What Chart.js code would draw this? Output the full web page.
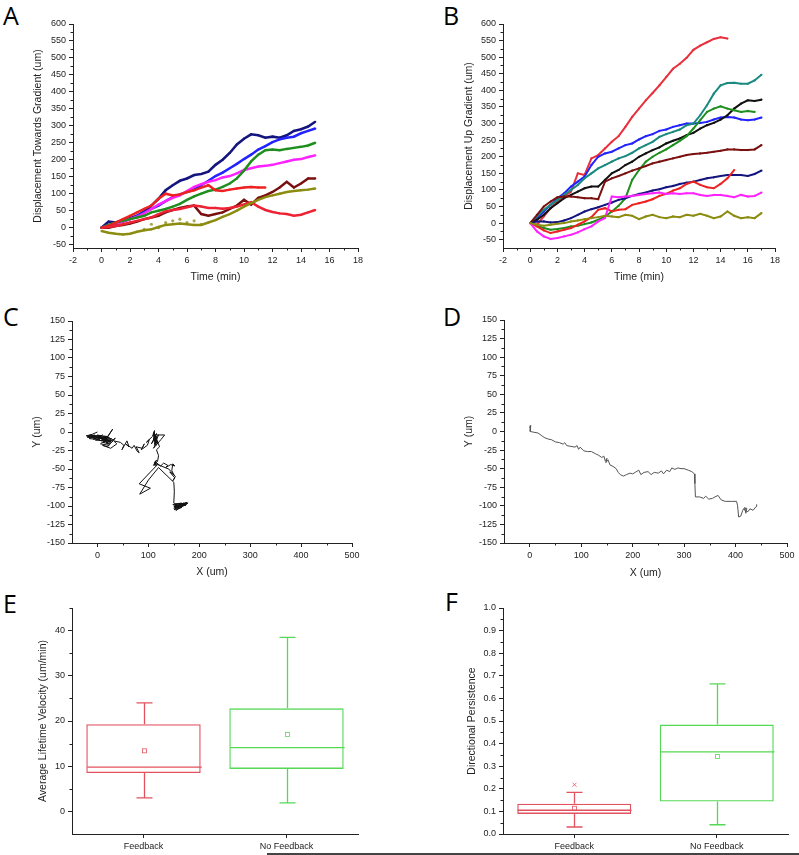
<!DOCTYPE html>
<html>
<head>
<meta charset="utf-8">
<script src="https://cdn.jsdelivr.net/npm/chart.js@4.4.1/dist/chart.umd.min.js"></script>
<style>
  body { margin: 0; background: #fff; width: 799px; height: 855px; position: relative; overflow: hidden; }
  canvas { position: absolute; }
  .lbl { position: absolute; font-family: "Open Sans", sans-serif; font-size: 25px; line-height: 25px; color: #000; }
  #rule { position: absolute; left: 267px; top: 853px; width: 532px; height: 2px; background: #444; }
</style>
</head>
<body>
<div class="lbl" style="left:3px;top:3px">A</div>
<div class="lbl" style="left:443px;top:3px">B</div>
<div class="lbl" style="left:3px;top:304px">C</div>
<div class="lbl" style="left:443px;top:304px">D</div>
<div class="lbl" style="left:3px;top:591px">E</div>
<div class="lbl" style="left:445px;top:589px">F</div>
<div id="rule"></div>

<canvas id="chartA" width="400" height="292" style="left:0;top:0"></canvas>
<canvas id="chartB" width="399" height="292" style="left:400px;top:0"></canvas>
<canvas id="chartC" width="400" height="290" style="left:0;top:295px"></canvas>
<canvas id="chartD" width="399" height="290" style="left:400px;top:295px"></canvas>
<canvas id="chartE" width="400" height="270" style="left:0;top:585px"></canvas>
<canvas id="chartF" width="399" height="270" style="left:400px;top:585px"></canvas>

<script>
// ---- Panel A: displacement towards gradient (feedback), every 0.5 min ----
const timeA = [0,0.5,1,1.5,2,2.5,3,3.5,4,4.5,5,5.5,6,6.5,7,7.5,8,8.5,9,9.5,10,10.5,11,11.5,12,12.5,13,13.5,14,14.5,15];
const navyA    = [0,18,15,22,28,35,48,65,85,110,125,138,145,155,158,165,185,200,220,245,262,275,272,265,268,265,272,285,290,298,312];
const blueA    = [0,8,12,18,25,35,45,55,65,78,90,98,105,112,125,138,152,162,175,188,202,215,230,240,252,260,265,268,278,285,292];
const greenA   = [0,8,15,20,25,30,35,45,50,55,62,70,82,92,100,108,112,120,130,145,168,195,215,228,230,228,232,235,238,242,250];
const magentaA = [0,5,12,18,25,32,42,55,68,78,88,95,108,120,128,135,140,148,152,160,170,175,180,182,185,190,195,200,202,208,213];
const redA1    = [0,5,15,25,35,45,55,65,85,100,95,98,105,110,118,125,110,108,112,115,118,120,118,118];
const redA2    = [0,2,5,10,15,20,25,30,40,48,52,55,60,65,62,58,58,56,58,62,68,75,62,52,46,42,40,35,38,45,52];
const maroonA  = [0,0,5,8,12,18,25,30,35,45,52,58,62,65,40,35,40,45,55,65,82,68,88,95,105,118,135,118,130,145,145];
const oliveA   = [-10,-15,-18,-20,-18,-12,-8,-5,2,8,10,12,10,8,8,15,22,32,40,50,62,72,82,90,95,100,105,108,110,112,115];
const khakiA   = [null,null,null,null,null,null,-5,10,0,15,20,25,15,20,10];

// ---- Panel B: displacement up gradient (no feedback), every 0.5 min ----
const timeB = [0,0.5,1,1.5,2,2.5,3,3.5,4,4.5,5,5.5,6,6.5,7,7.5,8,8.5,9,9.5,10,10.5,11,11.5,12,12.5,13,13.5,14,14.5,15,15.5,16,16.5,17];
const crimsonB = [0,-5,20,45,65,80,95,150,145,195,205,225,245,262,290,320,345,370,392,415,440,465,480,498,522,535,545,555,560,556];
const tealB    = [0,20,40,55,70,85,100,115,135,150,165,175,185,195,202,212,225,235,245,260,268,275,282,295,300,325,355,390,415,422,423,420,420,430,447];
const blackB   = [0,10,25,45,60,75,85,95,105,110,110,130,150,160,175,185,200,210,220,228,240,248,255,265,272,285,295,302,312,325,345,360,370,368,372];
const greenB   = [0,-8,-15,-20,-18,-15,-10,-8,-3,2,10,20,35,52,75,130,160,185,200,212,222,235,248,262,285,310,335,345,352,345,340,335,338,335];
const blueB    = [0,15,35,55,75,90,110,125,140,175,200,210,215,225,235,240,252,262,268,278,282,290,295,300,300,302,305,312,318,320,318,312,310,312,318];
const maroonB  = [0,25,50,65,78,80,80,78,75,75,72,125,135,142,150,158,165,172,180,185,190,195,200,205,208,210,212,215,218,222,222,220,220,222,235];
const navyB    = [0,5,5,2,3,8,15,25,35,42,48,55,62,70,75,82,88,92,98,102,108,112,118,122,125,130,135,138,142,145,145,145,142,148,158];
const redB     = [0,-10,-22,-30,-25,-20,-15,-5,5,18,40,45,35,40,42,55,60,65,72,82,88,98,105,118,125,115,108,105,118,135,160];
const magentaB = [0,-25,-40,-48,-45,-40,-35,-28,-18,-10,5,15,80,78,80,82,85,88,90,92,88,90,88,90,90,85,82,85,85,82,78,85,80,82,92];
const oliveB   = [0,-5,-8,-5,-2,0,5,8,12,15,18,22,20,18,25,22,12,20,25,18,15,20,18,25,22,28,22,15,20,35,22,15,18,15,30];

// ---- Panel C / D: single cell tracks, [x, y] in um ----
const trackC = [
  [0,0],[-10,-3],[-20,-5],[-5,-8],[-15,-4],[5,-6],[-8,-10],[10,-4],[0,-9],[15,-8],[-18,-6],[8,-12],[20,-6],[2,-5],
  [-22,-5],[-12,-8],[-20,-7],[-6,-4],[-16,-9],[4,-10],[-2,-7],[12,-9],[-10,-6],[6,-8],[16,-11],[0,-4],[18,-7],[8,-10],
  [22,-12],[-4,-11],[10,-8],[24,-8],[14,-6],[26,-13],[4,-6],[20,-10],[-14,-5],[28,-9],[18,-15],[32,-10],[10,-14],[24,-16],
  [25,-10],[12,-14],[30,4],[18,-9],[6,-16],[22,-18],[14,-11],[28,-14],[35,-8],[20,-20],[10,-18],[26,-22],[38,-16],[32,-12],
  [45,-14],[52,-18],[48,-24],[58,-12],[62,-20],[55,-16],[68,-22],[72,-18],[78,-26],[82,-28],[76,-20],[88,-22],[92,-16],
  [86,-24],[98,-18],[102,-10],[96,-14],
  [108,-6],[112,2],[110,-12],[116,-2],[106,-16],[114,-8],[120,-4],[112,-18],[118,-12],[110,-22],[125,-10],[132,-4],
  [112,-4],[114,-14],[111,-8],[115,-18],[110,-2],[113,-10],[116,-6],[112,-16],[114,-12],[111,0],
  [118,-16],[114,-6],[122,-20],[116,-24],[120,-32],[118,-40],
  [112,-42],[116,-38],[110,-45],[118,-44],[114,-40],[112,-44],[114,-41],[111,-43],[115,-45],[113,-40],
  [124,-46],[130,-42],[138,-45],[134,-48],[144,-44],[152,-46],[148,-43],[146,-52],[150,-58],[142,-54],[152,-62],[148,-66],[153,-60],
  [140,-50],[118,-44],[82,-70],[104,-76],[83,-84],[100,-65],[120,-48],
  [150,-68],[151,-80],[150,-96],
  [156,-100],[148,-98],[165,-96],[152,-104],[172,-97],[158,-102],[176,-95],[150,-101],[168,-99],[154,-106],[178,-96],[160,-97],
  [152,-98],[162,-100],[150,-103],[170,-96],[156,-101],[174,-99],[153,-97],[166,-102],[151,-105],[160,-98],[176,-97],[155,-103],[152,-99]
];
const trackD = [
  [0,5],[2,8],[1,0],[8,-1],[16,-2],[22,-5],[28,-8],[35,-10],[42,-11],[50,-14],[58,-15],[65,-17],[68,-15],[72,-19],[80,-20],
  [88,-21],[92,-19],[95,-24],[98,-21],[105,-26],[112,-27],[120,-27],[128,-30],[134,-32],[140,-35],[144,-33],[147,-40],
  [150,-36],[148,-42],[152,-38],[156,-45],[162,-47],[168,-50],[172,-55],[176,-58],[182,-60],[188,-58],[195,-56],[200,-57],
  [205,-55],[212,-52],[216,-58],[222,-55],[230,-54],[236,-58],[242,-55],[250,-56],[256,-53],[260,-57],[266,-52],[272,-54],
  [276,-49],[282,-51],[288,-49],[294,-50],[300,-50],[308,-52],[315,-54],[320,-57],[321,-70],[322,-88],[330,-88],[338,-90],
  [342,-87],[348,-91],[355,-90],[360,-88],[366,-86],[372,-92],[380,-94],[392,-94],[402,-94],[404,-100],[406,-115],[410,-114],
  [414,-106],[418,-102],[420,-110],[422,-103],[416,-105],[424,-108],[428,-104],[434,-106],[440,-101],[441,-98]
];

// ---- Panel E / F: box plots ----
const groups = ['Feedback', 'No Feedback'];
const velLow = [3.0, 1.9],  velQ1 = [8.5, 9.4],  velMed = [9.8, 14.1], velQ3 = [19.3, 22.8], velHigh = [24.0, 38.5], velMean = [13.4, 17.0];
const perLow = [0.031, 0.041], perQ1 = [0.089, 0.144], perMed = [0.105, 0.363], perQ3 = [0.134, 0.484], perHigh = [0.184, 0.664], perMean = [0.114, 0.343];
const perOutliers = [[0.218], []];
const velTicks = [0, 10, 20, 30, 40];

const FONT = "'Liberation Sans', Arial, sans-serif";
const boxColors = ['#e2525e', '#55d955'];

function pts(t, v) {
  return t.map((x, i) => (v[i] == null ? null : { x: x, y: v[i] })).filter(Boolean);
}

function axis(o) {
  const a = {
    type: o.type || 'linear',
    border: { display: true, color: '#222', width: 1 },
    grid: { drawOnChartArea: false, drawTicks: true, tickLength: 4, color: '#222', offset: false },
    ticks: { padding: 3, color: '#222', font: { family: FONT, size: 9 }, maxRotation: 0, autoSkip: false },
    title: { display: false },
    afterFit: s => { if (o.w != null) s.width = o.w; if (o.h != null) s.height = o.h; }
  };
  if (o.min != null) { a.min = o.min; a.max = o.max; a.ticks.stepSize = o.step; a.ticks.includeBounds = false; }
  if (o.at) a.afterBuildTicks = s => { s.ticks = o.at.map(v => ({ value: v })); };
  if (o.fmt) a.ticks.callback = o.fmt;
  if (o.title) a.title = { display: true, text: o.title, color: '#222', font: { family: FONT, size: 10.5 }, padding: o.tpad };
  return a;
}

// small ticks half way between the labelled ones
const minorTicks = {
  id: 'minorTicks',
  afterDraw(chart, args, opts) {
    const ctx = chart.ctx;
    ctx.save();
    ctx.strokeStyle = '#222';
    ctx.lineWidth = 1;
    (opts.axes || []).forEach(id => {
      const s = chart.scales[id], t = s.ticks;
      if (t.length < 2) return;
      const st = t[1].value - t[0].value;
      const vals = [t[0].value - st / 2, t[t.length - 1].value + st / 2];
      for (let i = 0; i < t.length - 1; i++) vals.push((t[i].value + t[i + 1].value) / 2);
      vals.forEach(v => {
        if (v <= s.min || v > s.max) return;
        const p = Math.round(s.getPixelForValue(v)) + 0.5;
        ctx.beginPath();
        if (s.isHorizontal()) { ctx.moveTo(p, s.top); ctx.lineTo(p, s.top + 2.5); }
        else { ctx.moveTo(s.right, p); ctx.lineTo(s.right - 2.5, p); }
        ctx.stroke();
      });
    });
    ctx.restore();
  }
};

// whiskers, medians, means and outliers on top of the floating-bar boxes
const boxPlot = {
  id: 'boxPlot',
  afterDatasetsDraw(chart, args, o) {
    if (!o || !o.colors) return;
    const ctx = chart.ctx, y = chart.scales.y;
    const meta = chart.getDatasetMeta(0);
    const py = v => y.getPixelForValue(v);
    ctx.save();
    meta.data.forEach((bar, i) => {
      const cx = Math.round(bar.x) + 0.5, hw = bar.width / 2, cap = 8;
      ctx.strokeStyle = o.colors[i];
      ctx.lineWidth = 1.3;
      ctx.beginPath();
      ctx.moveTo(cx - hw, py(o.med[i])); ctx.lineTo(cx + hw, py(o.med[i]));
      ctx.moveTo(cx, py(o.q3[i])); ctx.lineTo(cx, py(o.high[i]));
      ctx.moveTo(cx - cap, py(o.high[i])); ctx.lineTo(cx + cap, py(o.high[i]));
      ctx.moveTo(cx, py(o.q1[i])); ctx.lineTo(cx, py(o.low[i]));
      ctx.moveTo(cx - cap, py(o.low[i])); ctx.lineTo(cx + cap, py(o.low[i]));
      ctx.stroke();
      ctx.lineWidth = 0.8;
      ctx.strokeRect(cx - 2, py(o.mean[i]) - 2, 4, 4);
      (o.out[i] || []).forEach(v => {
        const p = py(v);
        ctx.beginPath();
        ctx.moveTo(cx - 2, p - 2); ctx.lineTo(cx + 2, p + 2);
        ctx.moveTo(cx + 2, p - 2); ctx.lineTo(cx - 2, p + 2);
        ctx.stroke();
      });
    });
    ctx.restore();
  }
};

function traceSet(t, v, color, width) {
  return { data: pts(t, v), borderColor: color, backgroundColor: color, showLine: true,
           borderWidth: width, pointRadius: 1.1, pointBorderWidth: 0, tension: 0 };
}

function baseOptions(pad, scales, minorAxes) {
  return {
    responsive: false, animation: false,
    layout: { padding: pad },
    plugins: { legend: { display: false }, tooltip: { enabled: false }, minorTicks: { axes: minorAxes } },
    scales: scales
  };
}

// Panel A
new Chart(document.getElementById('chartA'), {
  type: 'scatter',
  data: { datasets: [
    traceSet(timeA, oliveA, '#8c8c10', 2.5),
    { data: pts(timeA, khakiA), backgroundColor: '#a8a850', pointRadius: 1.6, pointBorderWidth: 0, showLine: false },
    traceSet(timeA, redA2, '#ee2233', 2.5),
    traceSet(timeA, maroonA, '#7a1010', 2.5),
    traceSet(timeA, redA1, '#ee2222', 2.5),
    traceSet(timeA, greenA, '#1e8f1e', 2.5),
    traceSet(timeA, magentaA, '#ff22ff', 2.5),
    traceSet(timeA, blueA, '#2323ff', 2.5),
    traceSet(timeA, navyA, '#15157f', 2.6)
  ] },
  options: baseOptions({ left: 0, right: 42, top: 24, bottom: 0 }, {
    x: axis({ min: -2, max: 18, step: 2, h: 44, title: 'Time (min)', tpad: { top: 0, bottom: 8.7 } }),
    y: axis({ min: -60, max: 600, step: 50, w: 73, title: 'Displacement Towards Gradient (um)', tpad: { top: 31.7, bottom: 0 } })
  }, ['x', 'y']),
  plugins: [minorTicks]
});

// Panel B
new Chart(document.getElementById('chartB'), {
  type: 'scatter',
  data: { datasets: [
    traceSet(timeB, oliveB, '#8c8c10', 2),
    traceSet(timeB, magentaB, '#ff22ff', 2),
    traceSet(timeB, redB, '#ee2222', 2),
    traceSet(timeB, navyB, '#15157f', 2),
    traceSet(timeB, maroonB, '#7a1010', 2),
    traceSet(timeB, greenB, '#1e8f1e', 2),
    traceSet(timeB, blackB, '#111111', 2),
    traceSet(timeB, tealB, '#1a8a80', 2),
    traceSet(timeB, blueB, '#2323ff', 2),
    traceSet(timeB, crimsonB, '#e8303c', 2)
  ] },
  options: baseOptions({ left: 0, right: 24, top: 24, bottom: 0 }, {
    x: axis({ min: -2, max: 18, step: 2, h: 44, title: 'Time (min)', tpad: { top: 0, bottom: 8.7 } }),
    y: axis({ min: -75, max: 600, step: 50, w: 103, title: 'Displacement Up Gradient (um)', tpad: { top: 62.7, bottom: 0 } })
  }, ['x', 'y']),
  plugins: [minorTicks]
});

function trackChart(id, track, color, width, pad, yw, ytpad, xtpad) {
  new Chart(document.getElementById(id), {
    type: 'scatter',
    data: { datasets: [{
      data: track.map(p => ({ x: p[0], y: p[1] })),
      borderColor: color, borderWidth: width, showLine: true, pointRadius: 0, tension: 0
    }] },
    options: baseOptions(pad, {
      x: axis({ min: -50, max: 500, step: 100, h: 42, title: 'X (um)', tpad: { top: 0, bottom: xtpad } }),
      y: axis({ min: -150, max: 150, step: 25, w: yw, title: 'Y (um)', tpad: { top: ytpad, bottom: 0 } })
    }, ['x', 'y']),
    plugins: [minorTicks]
  });
}
trackChart('chartC', trackC, '#111111', 1, { left: 0, right: 48, top: 26, bottom: 0 }, 72, 30.7, 7);
trackChart('chartD', trackD, '#555555', 1, { left: 0, right: 12, top: 25, bottom: 0 }, 104, 62.7, 5.7);

function boxChart(id, q1, q3, med, low, high, mean, out, yAxis, pad) {
  const options = baseOptions(pad, {
    x: axis({ type: 'category', h: 21 }),
    y: axis(yAxis)
  }, ['y']);
  options.plugins.boxPlot = { colors: boxColors, q1: q1, q3: q3, med: med, low: low, high: high, mean: mean, out: out };
  new Chart(document.getElementById(id), {
    type: 'bar',
    data: { labels: groups, datasets: [{
      data: q1.map((v, i) => [v, q3[i]]),
      backgroundColor: 'rgba(0,0,0,0)', borderColor: boxColors, borderWidth: 1.3,
      borderSkipped: false, barPercentage: 0.8, categoryPercentage: 1.0
    }] },
    options: options,
    plugins: [minorTicks, boxPlot]
  });
}

boxChart('chartE', velQ1, velQ3, velMed, velLow, velHigh, velMean, [[], []],
  { min: -5, max: 45, step: 10, at: velTicks, w: 72, title: 'Average Lifetime Velocity (um/min)', tpad: { top: 36.7, bottom: 0 } },
  { left: 0, right: 42, top: 23, bottom: 0 });
boxChart('chartF', perQ1, perQ3, perMed, perLow, perHigh, perMean, perOutliers,
  { min: 0, max: 1, step: 0.1, fmt: v => v.toFixed(1), w: 103, title: 'Directional Persistence', tpad: { top: 65.7, bottom: 0 } },
  { left: 0, right: 11, top: 23, bottom: 0 });
</script>
</body>
</html>
